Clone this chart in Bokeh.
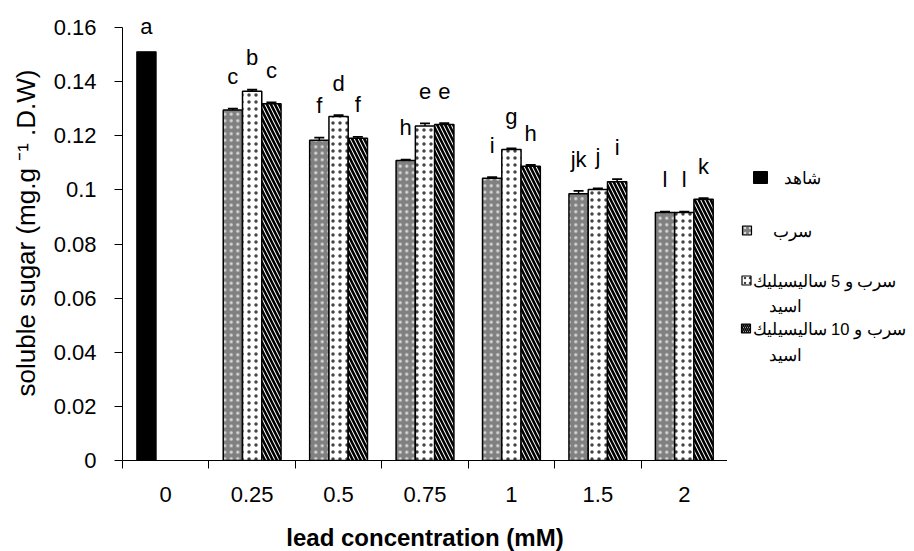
from bokeh.plotting import figure
from bokeh.models import (Range1d, FixedTicker, CustomJSTickFormatter, Whisker,
                          ColumnDataSource, TeeHead, LabelSet)
from bokeh.layouts import row
from bokeh.embed import file_html
from bokeh.resources import INLINE
from bokeh.core.properties import value

# ---------------- data ----------------
categories = ["0", "0.25", "0.5", "0.75", "1", "1.5", "2"]
control_value = 0.151
lead = [0.1295, 0.1183, 0.1109, 0.1043, 0.0986, 0.0916]
lead_sa5 = [0.1364, 0.1271, 0.1236, 0.1149, 0.1001, 0.0916]
lead_sa10 = [0.1318, 0.1191, 0.1242, 0.1087, 0.1030, 0.0965]
lead_err = [0.0005, 0.0010, 0.0003, 0.0004, 0.0010, 0.0004]
sa5_err = [0.0006, 0.0005, 0.0010, 0.0004, 0.0004, 0.0004]
sa10_err = [0.0005, 0.0005, 0.0005, 0.0005, 0.0010, 0.0004]
control_letter = "a"
lead_letters = ["c", "f", "h", "i", "jk", "l"]
sa5_letters = ["b", "d", "e", "g", "j", "l"]
sa10_letters = ["c", "f", "e", "h", "i", "k"]
y_ticks = [0, 0.02, 0.04, 0.06, 0.08, 0.10, 0.12, 0.14, 0.16]
legend_line1 = ["شاهد", "سرب", "سرب و 5 ساليسيليك", "سرب و 10 ساليسيليك"]
legend_line2 = ["", "", "اسيد", "اسيد"]
x_title = "lead concentration (mM)"
y_title = "soluble sugar (mg.g \u207b\u00b9 .D.W)"

FONT = "Liberation Sans"
BW = 0.223          # bar width in category units
GAP = 0.009         # letter lift above error bar
Y_MAX = 0.16
AXIS_PX = 433       # pixel height of the 0..Y_MAX axis
FRAME_H = 455       # frame a little taller so the top letter is not clipped
y_end = Y_MAX * FRAME_H / AXIS_PX

p = figure(x_range=Range1d(0, len(categories)), y_range=Range1d(0, y_end),
           frame_width=605, frame_height=FRAME_H,
           min_border_left=122, min_border_right=0, min_border_top=27 + AXIS_PX - FRAME_H,
           min_border_bottom=83,
           output_backend="svg", toolbar_location=None)
p.xgrid.visible = False
p.ygrid.visible = False
p.outline_line_color = None

styles = [
    dict(fill_color="#808080", hatch_pattern="dot", hatch_color="#d8d8d8", hatch_scale=6.5, hatch_weight=1.5),
    dict(fill_color="white", hatch_pattern="dot", hatch_color="#444444", hatch_scale=7, hatch_weight=1.5),
    dict(fill_color="white", hatch_pattern="left_diagonal_line", hatch_color="black", hatch_scale=8, hatch_weight=2.6),
]

letter_x, letter_y, letter_t = [], [], []

# control bar
cx = [0.5 - BW]
p.vbar(x=cx, top=[control_value], width=BW, bottom=0, fill_color="black",
       line_color="black", line_width=1.2)
letter_x += cx
letter_y += [control_value + GAP * 0.75]
letter_t += [control_letter]

series = [(lead, lead_err, lead_letters), (lead_sa5, sa5_err, sa5_letters),
          (lead_sa10, sa10_err, sa10_letters)]
for j, (vals, errs, letters) in enumerate(series):
    xs = [i + 1 + 0.5 + (j - 1) * BW for i in range(len(vals))]
    p.vbar(x=xs, top=vals, width=BW, bottom=0, line_color="black", line_width=1.5, **styles[j])
    src = ColumnDataSource(dict(x=xs, lower=vals, upper=[v + e for v, e in zip(vals, errs)]))
    p.add_layout(Whisker(base="x", lower="lower", upper="upper", source=src, dimension="height",
                         line_color="black", line_width=1.5,
                         upper_head=TeeHead(size=10, line_width=1.8, line_color="black"),
                         lower_head=None))
    letter_x += xs
    letter_y += [v + e + GAP for v, e in zip(vals, errs)]
    letter_t += letters

lsrc = ColumnDataSource(dict(x=letter_x, y=letter_y, text=letter_t))
p.add_layout(LabelSet(x="x", y="y", text="text", source=lsrc, text_font=value(FONT),
                      text_font_size="22px", text_align="center", text_baseline="alphabetic",
                      text_color="black"))

# x axis
xa = p.xaxis[0]
xa.ticker = FixedTicker(ticks=[i + 0.5 for i in range(len(categories))],
                        minor_ticks=list(range(len(categories) + 1)))
xa.formatter = CustomJSTickFormatter(args=dict(labels=categories),
                                     code="return labels[Math.round(tick - 0.5)];")
xa.major_tick_out = 0
xa.major_tick_in = 0
xa.minor_tick_out = 8
xa.minor_tick_in = 0
xa.minor_tick_line_color = "black"
xa.axis_line_color = "black"
xa.major_label_text_font = FONT
xa.major_label_text_font_size = "22px"
xa.major_label_text_color = "black"
xa.major_label_standoff = 18
xa.axis_label = x_title
xa.axis_label_text_font = FONT
xa.axis_label_text_font_size = "24px"
xa.axis_label_text_font_style = "bold"
xa.axis_label_text_color = "black"
xa.axis_label_standoff = 19

# y axis
ya = p.yaxis[0]
ya.bounds = (0, Y_MAX)
ya.ticker = FixedTicker(ticks=y_ticks, minor_ticks=[])
ya.formatter = CustomJSTickFormatter(code="return String(Math.round(tick * 100) / 100);")
ya.major_tick_out = 8
ya.major_tick_in = 0
ya.major_tick_line_color = "black"
ya.axis_line_color = "black"
ya.major_label_text_font = FONT
ya.major_label_text_font_size = "22px"
ya.major_label_text_color = "black"
ya.major_label_standoff = 18
ya.axis_label = y_title
ya.axis_label_text_font = FONT
ya.axis_label_text_font_size = "26px"
ya.axis_label_text_font_style = "normal"
ya.axis_label_text_color = "black"
ya.axis_label_standoff = 10

# ---------------- legend panel ----------------
LW, LH = 187, 543
leg = figure(x_range=Range1d(0, LW), y_range=Range1d(LH, 0), frame_width=LW, frame_height=LH,
             min_border=0, x_axis_location=None, y_axis_location=None,
             output_backend="svg", toolbar_location=None)
leg.grid.visible = False
leg.outline_line_color = None

# swatches (local coordinates of the legend panel)
leg.rect(x=[33], y=[172], width=14, height=12, fill_color="black", line_color="black")
sw_x = [19.5, 19, 18.5]
sw_y = [225, 275, 323]
for k in range(3):
    st = dict(styles[k])
    st["hatch_scale"] = 5 if k < 2 else 4
    st["hatch_weight"] = 1.4 if k < 2 else 1.6
    leg.rect(x=[sw_x[k]], y=[sw_y[k]], width=9, height=9, line_color="black", line_width=1.2, **st)

tx1 = [56, 45, 25, 25]
ty1 = [172, 225, 275, 323]
leg.text(x=tx1, y=ty1, text=legend_line1, text_font=value(FONT), text_font_size="16.5px",
         text_align="left", text_baseline="middle", text_color="black")
tx2 = [41, 41, 41, 41]
ty2 = [0, 0, 300, 349]
leg.text(x=tx2, y=ty2, text=legend_line2, text_font=value(FONT), text_font_size="16.5px",
         text_align="left", text_baseline="middle", text_color="black")

layout = row(p, leg)
open("out.html", "w").write(file_html(layout, INLINE))
